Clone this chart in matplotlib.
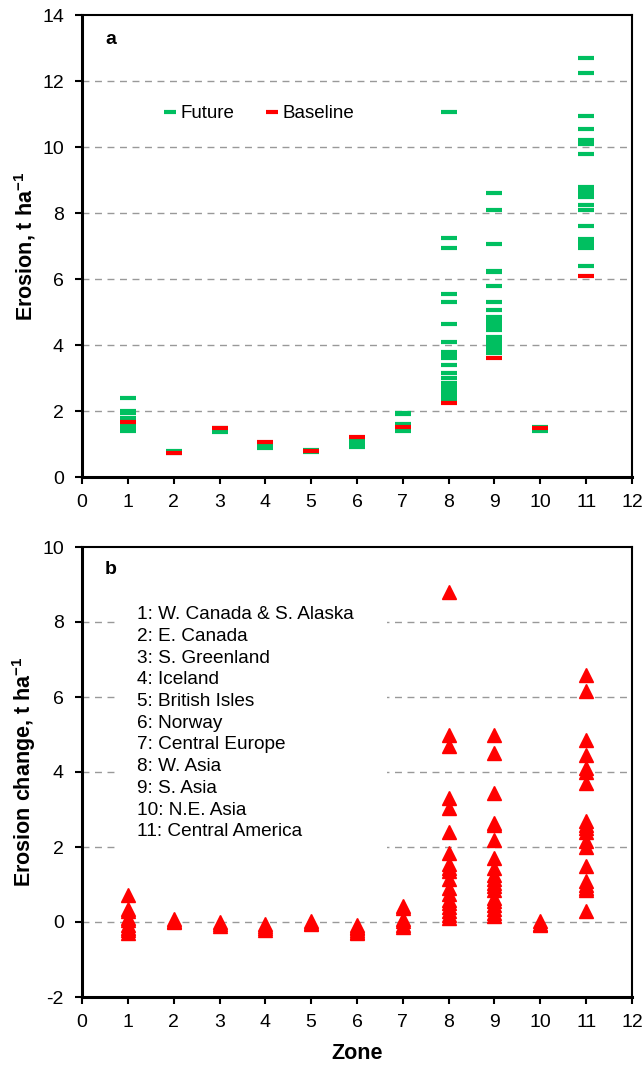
import matplotlib
matplotlib.use("Agg")
import matplotlib.pyplot as plt
from matplotlib.patches import Rectangle
import numpy as np

plt.rcParams["font.family"] = ["Liberation Sans", "DejaVu Sans"]
plt.rcParams["axes.unicode_minus"] = False
plt.rcParams["mathtext.fontset"] = "custom"
plt.rcParams["mathtext.rm"] = "Liberation Sans"
plt.rcParams["mathtext.bf"] = "Liberation Sans:bold"

# ---- data: erosion (t/ha) per zone, future scenarios and baseline ----
zones = list(range(1, 12))

future = {
    1: [2.38, 2.0, 1.95, 1.78, 1.72, 1.57, 1.5, 1.45, 1.38],
    2: [0.8, 0.76, 0.72],
    3: [1.48, 1.42, 1.36],
    4: [1.02, 0.97, 0.9, 0.87],
    5: [0.83, 0.78, 0.75],
    6: [1.13, 1.08, 1.03, 0.98, 0.93, 0.9],
    7: [1.95, 1.9, 1.6, 1.55, 1.45, 1.38],
    8: [11.05, 7.25, 6.95, 5.55, 5.3, 4.65, 4.1, 3.8, 3.7, 3.6, 3.4, 3.15,
        3.0, 2.85, 2.75, 2.65, 2.55, 2.45, 2.35],
    9: [8.6, 8.1, 7.05, 6.25, 6.2, 5.8, 5.3, 5.05, 4.85, 4.75, 4.65, 4.55,
        4.45, 4.25, 4.15, 4.05, 3.95, 3.85, 3.75],
    10: [1.52, 1.45, 1.4],
    11: [12.7, 12.25, 10.95, 10.55, 10.2, 10.1, 9.8, 8.8, 8.7, 8.6, 8.5,
         8.25, 8.1, 7.6, 7.2, 7.1, 7.0, 6.95, 6.4],
}
baseline = [1.66, 0.72, 1.47, 1.07, 0.8, 1.2, 1.52, 2.25, 3.6, 1.49, 6.1]

zone_names = [
    "1: W. Canada & S. Alaska",
    "2: E. Canada",
    "3: S. Greenland",
    "4: Iceland",
    "5: British Isles",
    "6: Norway",
    "7: Central Europe",
    "8: W. Asia",
    "9: S. Asia",
    "10: N.E. Asia",
    "11: Central America",
]

GREEN = "#00BF60"
RED = "#FF0000"
GRID = "#999999"

fig = plt.figure(figsize=(6.42, 10.65), dpi=100)
ax_a = fig.add_axes([82 / 642, 1 - 477 / 1065, 550 / 642, 462 / 1065])
ax_b = fig.add_axes([82 / 642, 1 - 997 / 1065, 550 / 642, 450 / 1065])


def style_axes(ax, ymin, ymax):
    ax.set_xlim(0, 12)
    ax.set_ylim(ymin, ymax)
    ax.set_xticks(range(0, 13))
    ax.set_yticks(np.arange(ymin, ymax + 1, 2))
    ax.tick_params(direction="out", length=5, width=1.5, labelsize=14,
                   top=False, right=False)
    ax.tick_params(axis="y", pad=8)
    ax.tick_params(axis="x", pad=7)
    for side in ["left", "bottom"]:
        ax.spines[side].set_linewidth(2.2)
    for side in ["top", "right"]:
        ax.spines[side].set_linewidth(1.5)
    for y in np.arange(ymin + 2, ymax, 2):
        ax.axhline(y, color=GRID, lw=1, ls=(0, (5, 4)), zorder=0)


# ---- panel a ----
style_axes(ax_a, 0, 14)
fx, fy = [], []
for z in zones:
    fx += [z] * len(future[z])
    fy += future[z]
ax_a.plot(fx, fy, ls="none", marker="_", ms=11, mew=3, color=GREEN,
          label="Future", zorder=3)
ax_a.plot(zones, baseline, ls="none", marker="_", ms=11, mew=3, color=RED,
          label="Baseline", zorder=4)
ax_a.set_ylabel("Erosion, t ha$^{\\mathbf{-1}}$", fontsize=15.5,
                fontweight="bold", labelpad=3)
ax_a.text(0.042, 0.946, "a", transform=ax_a.transAxes, fontsize=14,
          fontweight="bold", va="center")
ax_a.legend(loc="center left", bbox_to_anchor=(0.126, 0.786), ncol=2,
            frameon=False, fontsize=13.5, handlelength=1.0, handletextpad=0.05,
            columnspacing=1.5, markerscale=0.85, borderpad=0)

# ---- panel b: change = future - baseline ----
style_axes(ax_b, -2, 10)
cx, cy = [], []
for i, z in enumerate(zones):
    cx += [z] * len(future[z])
    cy += [v - baseline[i] for v in future[z]]
ax_b.plot(cx, cy, ls="none", marker="^", ms=10.5, color=RED, mec=RED, zorder=3)
ax_b.set_ylabel("Erosion change, t ha$^{\\mathbf{-1}}$", fontsize=15.5,
                fontweight="bold", labelpad=3)
ax_b.set_xlabel("Zone", fontsize=15.5, fontweight="bold", labelpad=9)
ax_b.text(0.042, 0.949, "b", transform=ax_b.transAxes, fontsize=14,
          fontweight="bold", va="center")

ax_b.add_patch(Rectangle((0.069, 0.30), 0.486, 0.585, transform=ax_b.transAxes,
                         facecolor="white", edgecolor="none", zorder=1))
ax_b.text(0.1, 0.868, "\n".join(zone_names), transform=ax_b.transAxes,
          fontsize=13.7, va="top", ha="left", linespacing=1.36, zorder=2)

fig.savefig("out.png", dpi=100)
